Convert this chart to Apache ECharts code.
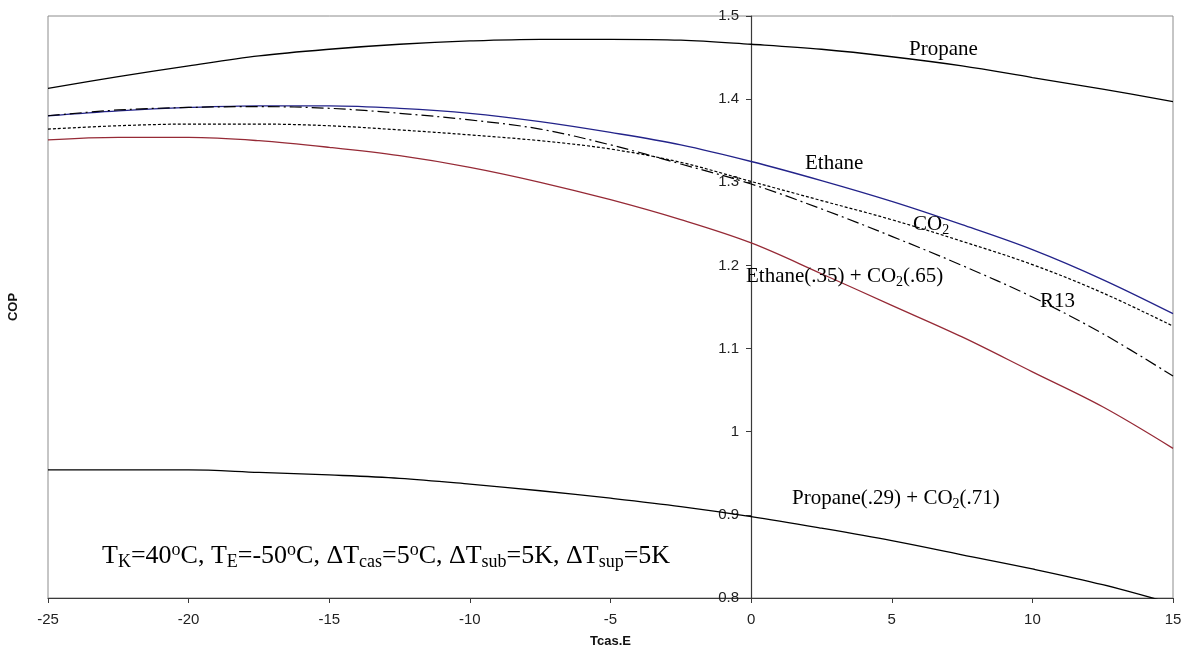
<!DOCTYPE html>
<html>
<head>
<meta charset="utf-8">
<script src="https://cdn.jsdelivr.net/npm/echarts@6/dist/echarts.min.js"></script>
<style>
html,body{margin:0;padding:0;background:#fff;}
#chart{width:1184px;height:654px;}
</style>
</head>
<body>
<div id="chart"></div>
<script>
const tcasE = [-25, -22.5, -20, -17.5, -15, -12.5, -10, -7.5, -5, -2.5, 0, 2.5, 5, 7.5, 10, 12.5, 15];
const propane = [1.413, 1.427, 1.440, 1.452, 1.460, 1.466, 1.470, 1.472, 1.472, 1.471, 1.466, 1.460, 1.451, 1.440, 1.426, 1.412, 1.397];
const ethane = [1.380, 1.386, 1.390, 1.392, 1.392, 1.389, 1.383, 1.373, 1.360, 1.345, 1.325, 1.302, 1.277, 1.249, 1.219, 1.183, 1.142];
const r13 = [1.380, 1.387, 1.390, 1.391, 1.389, 1.383, 1.375, 1.364, 1.345, 1.322, 1.298, 1.268, 1.235, 1.200, 1.162, 1.118, 1.067];
const co2 = [1.364, 1.368, 1.370, 1.370, 1.368, 1.363, 1.357, 1.350, 1.340, 1.324, 1.301, 1.278, 1.255, 1.229, 1.201, 1.167, 1.127];
const ethaneCo2 = [1.351, 1.354, 1.354, 1.350, 1.342, 1.332, 1.318, 1.300, 1.279, 1.255, 1.227, 1.190, 1.152, 1.114, 1.072, 1.030, 0.980];
const propaneCo2 = [0.954, 0.954, 0.954, 0.951, 0.948, 0.944, 0.937, 0.929, 0.920, 0.910, 0.898, 0.884, 0.869, 0.852, 0.835, 0.816, 0.793];

const pairs = arr => tcasE.map((x, i) => [x, arr[i]]);
const serif = '"Liberation Serif", "Times New Roman", serif';
const sans = '"Liberation Sans", Arial, sans-serif';

function mkSeries(name, arr, color, type, width) {
  return {
    name: name, type: 'line', data: pairs(arr), smooth: 0.35, showSymbol: false,
    clip: true, silent: true,
    lineStyle: { color: color, width: width || 1.3, type: type || 'solid' }
  };
}

const chart = echarts.init(document.getElementById('chart'));
const subStyle = { fontSize: 14, verticalAlign: 'bottom', fontFamily: serif, fill: '#000' };
const subStyleB = { fontSize: 18, verticalAlign: 'bottom', fontFamily: serif, fill: '#000' };
const supStyleB = { fontSize: 18, verticalAlign: 'top', fontFamily: serif, fill: '#000' };

function label(x, top, text, size, lh, rich) {
  return {
    type: 'text', x: x, y: top, silent: true, z: 100,
    style: {
      text: text, fontFamily: serif, fontSize: size, lineHeight: lh, fill: '#000',
      align: 'left', verticalAlign: 'top', rich: rich || {}
    }
  };
}

chart.setOption({
  animation: false,
  backgroundColor: '#fff',
  grid: { left: 48, right: 11, top: 16, bottom: 56, show: true, borderColor: '#8c8c8c', borderWidth: 1, containLabel: false, outerBoundsMode: 'none' },
  xAxis: {
    type: 'value', min: -25, max: 15, interval: 5,
    name: 'Tcas.E', nameLocation: 'middle', nameGap: 37,
    nameTextStyle: { fontFamily: sans, fontSize: 13, fontWeight: 'bold', color: '#111' },
    axisLine: { onZero: false, lineStyle: { color: '#3a3a3a', width: 1.2 } },
    axisTick: { show: true, inside: false, length: 5, lineStyle: { color: '#3a3a3a' } },
    axisLabel: { fontFamily: sans, fontSize: 15, color: '#222', margin: 14 },
    splitLine: { show: false }
  },
  yAxis: {
    type: 'value', min: 0.8, max: 1.5, interval: 0.1,
    position: 'left', offset: -703,
    axisLine: { onZero: false, lineStyle: { color: '#3a3a3a', width: 1.2 } },
    axisTick: { show: true, inside: false, length: 5, lineStyle: { color: '#3a3a3a' } },
    axisLabel: { fontFamily: sans, fontSize: 15, color: '#222', margin: 12,
      formatter: v => String(+v.toFixed(1)) },
    splitLine: { show: false }
  },
  series: [
    mkSeries('Propane', propane, '#000000', 'solid', 1.3),
    mkSeries('Ethane', ethane, '#23238a', 'solid', 1.3),
    mkSeries('R13', r13, '#000000', [12, 4, 2, 4], 1.2),
    mkSeries('CO2', co2, '#000000', [3, 2], 1.2),
    mkSeries('Ethane(.35) + CO2(.65)', ethaneCo2, '#962a36', 'solid', 1.3),
    mkSeries('Propane(.29) + CO2(.71)', propaneCo2, '#000000', 'solid', 1.3)
  ],
  graphic: [
    label(909, 39, 'Propane', 21, 21),
    label(805, 153, 'Ethane', 21, 21),
    label(913, 211.5, 'CO{s|2}', 21, 26, { s: subStyle }),
    label(746, 263, 'Ethane(.35) + CO{s|2}(.65)', 21, 26, { s: subStyle }),
    label(1040, 291, 'R13', 21, 21),
    label(792, 485, 'Propane(.29) + CO{s|2}(.71)', 21, 26, { s: subStyle }),
    label(102, 541, 'T{b|K}=40{p|o}C, T{b|E}=-50{p|o}C, ΔT{b|cas}=5{p|o}C, ΔT{b|sub}=5K, ΔT{b|sup}=5K', 26, 30, { b: subStyleB, p: supStyleB }),
    {
      type: 'text', x: 13, y: 307, rotation: Math.PI / 2, silent: true,
      style: { text: 'COP', fontFamily: sans, fontSize: 13, fontWeight: 'bold', fill: '#111', align: 'center', verticalAlign: 'middle' }
    }
  ]
});
</script>
</body>
</html>
